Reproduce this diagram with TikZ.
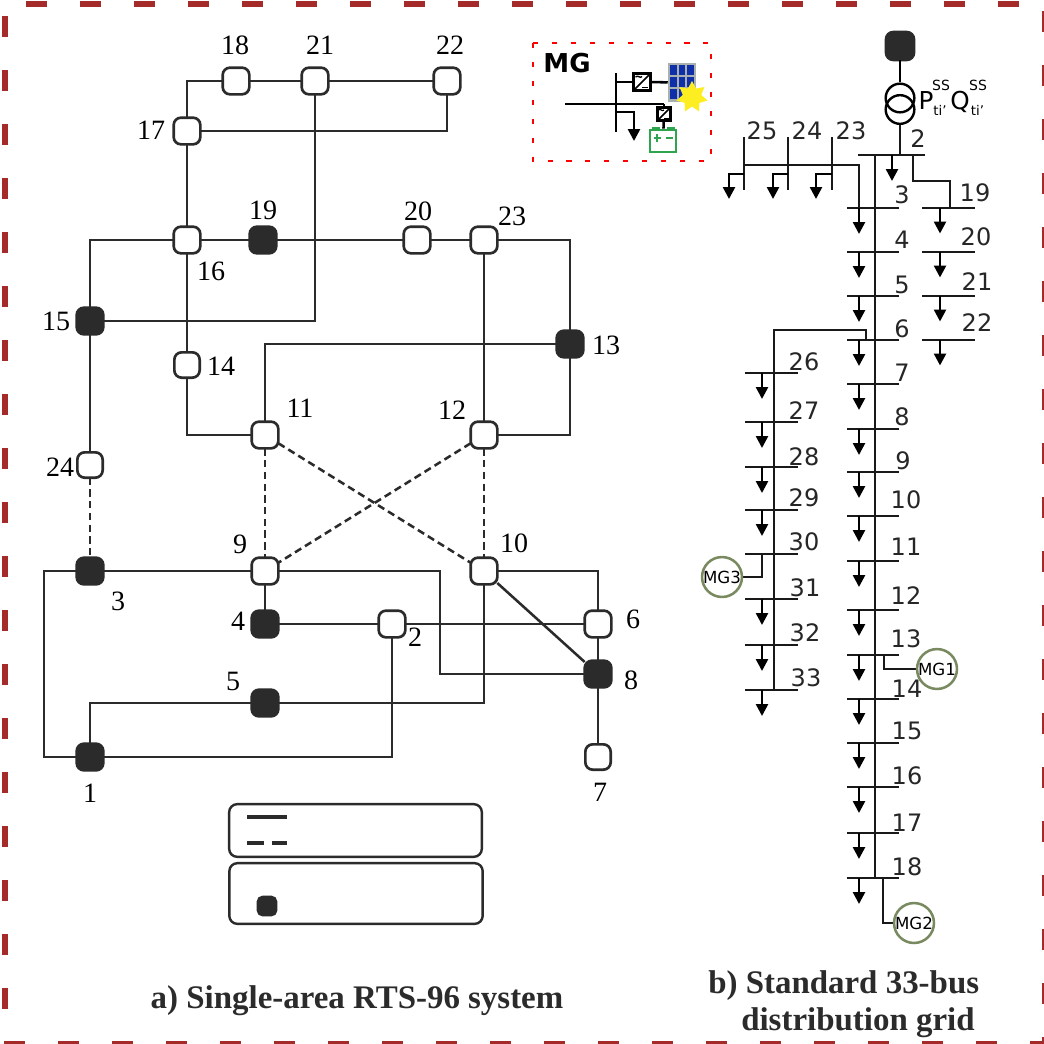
\documentclass[tikz,border=0pt]{standalone}
\usepackage{fontspec}
\setmainfont{Liberation Serif}
\newfontfamily\dejavu{DejaVu Sans}
\usetikzlibrary{arrows.meta,shapes.geometric}
\definecolor{borderred}{HTML}{A52A2A}
\definecolor{inkdark}{HTML}{2B2B2B}
\definecolor{mgolive}{HTML}{7A8A60}
\definecolor{battgreen}{HTML}{2EA44F}
\definecolor{panelblue}{HTML}{0F2FA8}
\definecolor{panelgrey}{HTML}{A8B0B0}
\definecolor{sunyellow}{HTML}{FCEE21}
\tikzset{
  x=0.75pt,y=-0.75pt,
  wbus/.style={draw=inkdark,line width=2pt,fill=white,rounded corners=5.5pt,minimum size=20pt,inner sep=0pt,outer sep=0pt},
  dbus/.style={wbus,fill=inkdark},
  sbus/.style={wbus,minimum size=19pt},
  tie/.style={draw=inkdark,line width=1.9pt},
  tiedash/.style={tie,dash pattern=on 5.5pt off 3.3pt},
  rlabel/.style={inner sep=0pt,font=\fontsize{21}{24}\selectfont,text=black},
  dlabel/.style={inner sep=0pt,font=\dejavu\fontsize{18}{20}\selectfont,text=black!85},
  feeder/.style={draw=black!90,line width=1.9pt},
  load/.style={draw=black,line width=1.9pt,-{Triangle[length=9pt,width=9pt]}},
  mgc/.style={circle,draw=mgolive,line width=1.9pt,fill=white,minimum size=28pt,inner sep=0pt,font=\dejavu\fontsize{12.5}{13}\selectfont},
  conv/.style={draw=black,line width=2pt,fill=white,inner sep=0pt,outer sep=0pt},
  title/.style={inner sep=0pt,font=\bfseries\fontsize{24.7}{28}\selectfont,text=inkdark},
  frameline/.style={draw=borderred,line width=4.2pt,dash pattern=on 16pt off 24.5pt},
}
\begin{document}
\begin{tikzpicture}
\useasboundingbox (0,0) rectangle (1044,1043);
\fill[white] (0,0) rectangle (1044,1043);
% outer border
\coordinate (fa) at (26,4); \coordinate (fb) at (1044,4);
\coordinate (fc) at (5,16); \coordinate (fd) at (5,1040);
\coordinate (fe) at (1044.5,11); \coordinate (ff) at (1044.5,1043);
\coordinate (fg) at (4,1043.5); \coordinate (fh) at (1044,1043.5);
\draw[frameline] (fa) -- (fb);
\draw[frameline] (fc) -- (fd);
\draw[frameline] (fe) -- (ff);
\draw[frameline] (fg) -- (fh);

% ---------- left system: buses
\foreach \n/\x/\y/\s in {18/236/81/wbus,21/315/81/wbus,22/447/81/wbus,17/187/131/wbus,
  16/187/240/wbus,19/263/240/dbus,20/417/240/wbus,23/484/240/wbus,15/90/321/dbus,
  13/570/344/dbus,14/187/365/sbus,11/265/435/wbus,12/484/435/wbus,24/90/465/sbus,
  3/90/571/dbus,9/265/571/wbus,10/484/571/wbus,4/265/624/dbus,2/392/624/wbus,
  6/598/624/wbus,8/598/674/dbus,5/265/703/dbus,1/90/757/dbus,7/598/757/sbus}
  {\node[\s] (n\n) at (\x,\y) {};}

\coordinate (ca) at (44,571); \coordinate (cb) at (44,757);
\coordinate (cc) at (440,571); \coordinate (cd) at (440,674);

\draw[tie] (n17) |- (n18);
\draw[tie] (n18) -- (n21);
\draw[tie] (n21) -- (n22);
\draw[tie] (n17) -| (n22);
\draw[tie] (n17) -- (n16);
\draw[tie] (n16) -- (n14);
\draw[tie] (n14) |- (n11);
\draw[tie] (n21) |- (n15);
\draw[tie] (n15) |- (n16);
\draw[tie] (n16) -- (n19);
\draw[tie] (n19) -- (n20);
\draw[tie] (n20) -- (n23);
\draw[tie] (n23) -| (n13);
\draw[tie] (n13) |- (n12);
\draw[tie] (n13) -| (n11);
\draw[tie] (n23) -- (n12);
\draw[tie] (n15) -- (n24);
\draw[tiedash] (n24) -- (n3);
\draw[tiedash] (n11) -- (n9);
\draw[tiedash] (n12) -- (n9);
\draw[tiedash] (n11) -- (n10);
\draw[tiedash] (n12) -- (n10);
\draw[tie] (n3) -- (n9);
\draw[tie] (n9) -- (cc) -- (cd) -- (n8);
\draw[tie] (n3) -- (ca) -- (cb) -- (n1);
\draw[tie] (n1) -| (n2);
\draw[tie] (n1) |- (n5);
\draw[tie] (n5) -| (n10);
\draw[tie] (n10) -| (n6);
\draw[tie] (n10) -- (n8);
\draw[tie] (n9) -- (n4);
\draw[tie] (n4) -- (n2);
\draw[tie] (n2) -- (n6);
\draw[tie] (n6) -- (n8);
\draw[tie] (n8) -- (n7);

\foreach \n/\x/\y in {18/235/45,21/320/45,22/450/45,17/151/130,19/263/210,20/418/211,
  23/512/216,16/211/271,15/56/321,13/606/345,14/221/366,11/300/408,12/452/410,
  24/60/467,9/240/544,10/514/543,3/118/601,4/238/621,2/415/637,6/633/619,8/631/680,
  5/233/681,1/90/793,7/600/792}
  {\node[rlabel] (ln\n) at (\x,\y) {\n};}

% legend
\node[draw=inkdark,line width=1.8pt,rounded corners=6pt,minimum width=189.5pt,minimum height=39.5pt,inner sep=0pt] (lega) at (355.5,830.5) {};
\node[draw=inkdark,line width=1.8pt,rounded corners=6pt,minimum width=190pt,minimum height=45.5pt,inner sep=0pt] (legb) at (356,893.5) {};
\coordinate (la) at (247,817); \coordinate (lb) at (287,817);
\coordinate (lc) at (247,843); \coordinate (ld) at (287,843);
\draw[inkdark,line width=3pt] (la) -- (lb);
\draw[inkdark,line width=3pt,dash pattern=on 12.8pt off 5.6pt] (lc) -- (ld);
\node[dbus,minimum size=13.5pt,rounded corners=3.5pt] (legn) at (267,906) {};

% titles
\node[title,anchor=base] (ta) at (357,1008) {a) Single-area RTS-96 system};
\node[title,anchor=base west] (tb1) at (708,993) {b) Standard 33-bus};
\node[title,anchor=base west] (tb2) at (741,1030) {distribution grid};

% ---------- MG inset
\draw[red,line width=2pt,dash pattern=on 3.8pt off 10.4pt] (533,43) rectangle (711,161);
\node[inner sep=0pt,font=\dejavu\bfseries\fontsize{19.5}{20}\selectfont] (mgt) at (567,63) {MG};
\coordinate (ma) at (616,73); \coordinate (mb) at (616,132);
\coordinate (mc) at (565,104); \coordinate (md) at (616,104); \coordinate (me) at (664,104);
\coordinate (mf) at (616,112); \coordinate (mg) at (634,112); \coordinate (mh) at (634,141);
\coordinate (mi) at (616,82);
\draw[black,line width=1.9pt] (ma) -- (mb);
\draw[black,line width=1.9pt] (mc) -- (md) -- (me);
\draw[load] (mf) -- (mg) -- (mh);
% solar panel
\node[fill=panelgrey,minimum width=21pt,minimum height=29pt,inner sep=0pt] (panel) at (682,82.5) {};
\foreach \cx in {673.5,682,690.5}{\foreach \cy in {70,82,94}
  {\fill[panelblue] (\cx-3.4,\cy-4.8) rectangle (\cx+3.4,\cy+4.8);}}
\node[star,star points=7,star point ratio=1.7,fill=sunyellow,minimum size=24pt,inner sep=0pt] (sun) at (692,97) {};
% converters
\node[conv,minimum size=13pt] (conva) at (642,82) {};
\draw[black,line width=1.2pt] (conva.south west) -- (conva.north east);
\draw[black,line width=1pt] (635.5,77) .. controls (638,74.5) and (640,79) .. (642,76.5);
\draw[black,line width=1pt] (642,87.5) -- (648,87.5);
\node[conv,minimum size=10pt] (convb) at (664,114) {};
\draw[black,line width=1.2pt] (convb.south west) -- (convb.north east);
\draw[black,line width=0.9pt] (658.5,110) .. controls (660.5,108) and (662,112) .. (664,110);
\draw[black,line width=0.9pt] (664,118.5) -- (669,118.5);
\draw[black,line width=1.9pt] (mi) -- (conva);
\draw[black,line width=1.9pt] (conva) -- (panel);
\draw[black,line width=1.9pt] (me) -- (convb);
% battery
\node[draw=battgreen,line width=2pt,fill=white,minimum width=19.5pt,minimum height=16.5pt,inner sep=0pt] (batt) at (663,141) {};
\fill[battgreen] (652,126.5) rectangle (660,130);
\fill[battgreen] (667,126.5) rectangle (675,130);
\draw[battgreen,line width=1.9pt] (653.5,138) -- (661,138) (657.2,134.2) -- (657.2,141.8);
\draw[battgreen,line width=1.9pt] (666,138) -- (673,138);
\draw[black,line width=1.9pt] (convb) -- (batt);

% ---------- right feeder
\node[dbus,minimum size=21pt] (ss) at (900,46) {};
\node[circle,draw=black,line width=1.8pt,minimum size=21.5pt,inner sep=0pt] (tra) at (900,98) {};
\node[circle,draw=black,line width=1.8pt,minimum size=21.5pt,inner sep=0pt] (trb) at (900,109.5) {};
\draw[black,line width=1.5pt] (ss) -- (tra);
\coordinate (b2l) at (858,155); \coordinate (b2r) at (925,155);
\coordinate (b2t) at (900,155);
\coordinate (b2m) at (875,155);
\coordinate (l2t) at (892,155); \coordinate (l2b) at (892,181);
\draw[feeder] (b2l) -- (b2r);
\draw[feeder] (trb) -- (b2t);
\draw[load] (l2t) -- (l2b);
\node[dlabel] (lb2) at (918,139) {2};
\node[inner sep=0pt,font=\dejavu\fontsize{18.5}{20}\selectfont] (tp) at (926,101) {P};
\node[inner sep=0pt,font=\dejavu\fontsize{18.5}{20}\selectfont] (tq) at (960,102) {Q};
\node[inner sep=0pt,font=\dejavu\fontsize{10.5}{11}\selectfont] (tps) at (941,85.5) {SS};
\node[inner sep=0pt,font=\dejavu\fontsize{10.5}{11}\selectfont] (tqs) at (978,85.5) {SS};
\node[inner sep=0pt,font=\dejavu\fontsize{10}{11}\selectfont] (tpt) at (940,110) {ti’};
\node[inner sep=0pt,font=\dejavu\fontsize{10}{11}\selectfont] (tqt) at (977.5,110) {ti’};

% main feeder buses
\foreach \n/\y/\lx/\ly in {3/208/902/195,4/252/902/240,5/296/902/285,6/340/902/329,7/384/902/373,
  8/429/902/417,9/472/903/461,10/516/906/500,11/561/906/547,12/610/906/596,13/655/906/639,
  14/699/907/689,15/743/907/731,16/787/907/776,17/833/907/823,18/878/907/867}{
  \coordinate (b\n l) at (847,\y); \coordinate (b\n r) at (899,\y);
  \coordinate (l\n t) at (859,\y); \coordinate (l\n b) at (859,\y+26);
  \draw[feeder] (b\n l) -- (b\n r);
  \draw[load] (l\n t) -- (l\n b);
  \node[dlabel] (lb\n) at (\lx,\ly) {\n};
}
\coordinate (b18m) at (875,878);
\draw[feeder] (b2m) -- (b18m);

% lateral 19-22
\coordinate (ra) at (913,155); \coordinate (rb) at (913,181);
\coordinate (rc) at (950,181); \coordinate (rd) at (950,208);
\draw[feeder] (ra) -- (rb) -- (rc) -- (rd);
\foreach \n/\y/\lx/\ly in {19/208/975/193,20/252/976/237,21/296/977/282,22/340/977/323}{
  \coordinate (b\n l) at (922,\y); \coordinate (b\n r) at (975,\y);
  \coordinate (l\n t) at (940,\y); \coordinate (l\n b) at (940,\y+25.5);
  \draw[feeder] (b\n l) -- (b\n r);
  \draw[load] (l\n t) -- (l\n b);
  \node[dlabel] (lb\n) at (\lx,\ly) {\n};
}

% lateral 23-25
\coordinate (ua) at (859,208); \coordinate (ub) at (859,165); \coordinate (uc) at (744,165);
\draw[feeder] (ua) -- (ub) -- (uc);
\foreach \n/\x/\ax/\lx in {25/744/729/762,24/788/773/807,23/832/816/851}{
  \coordinate (t\n) at (\x,137); \coordinate (e\n) at (\x,190);
  \coordinate (f\n) at (\x,174); \coordinate (g\n) at (\ax,174); \coordinate (h\n) at (\ax,199);
  \draw[feeder] (t\n) -- (e\n);
  \draw[load] (f\n) -- (g\n) -- (h\n);
  \node[dlabel] (lb\n) at (\lx,131) {\n};
}

% lateral 26-33
\coordinate (va) at (866,340); \coordinate (vb) at (866,330);
\coordinate (vc) at (774,330); \coordinate (vd) at (774,690);
\draw[feeder] (va) -- (vb) -- (vc) -- (vd);
\foreach \n/\y/\lx/\ly in {26/373/804/362,27/422/804/411,28/467/804/457,29/510/804/498,
  30/554/804/542,31/599/805/588,32/645/805/633,33/690/806/678}{
  \coordinate (b\n l) at (745,\y); \coordinate (b\n r) at (798,\y);
  \draw[feeder] (b\n l) -- (b\n r);
  \node[dlabel] (lb\n) at (\lx,\ly) {\n};
}
\foreach \n/\y in {26/373,27/422,28/467,29/510,31/599,32/645,33/690}{
  \coordinate (l\n t) at (762,\y); \coordinate (l\n b) at (762,\y+26);
  \draw[load] (l\n t) -- (l\n b);
}

% microgrids
\coordinate (wa) at (762,554); \coordinate (wb) at (762,577); \coordinate (wc) at (743,577);
\draw[feeder] (wa) -- (wb) -- (wc);
\node[mgc,fill=none] (mg3) at (722,577) {MG3};
\coordinate (xa) at (884,655); \coordinate (xb) at (884,669); \coordinate (xc) at (917,669);
\draw[feeder] (xa) -- (xb) -- (xc);
\node[mgc,fill=none] (mg1) at (937,669) {MG1};
\coordinate (ya) at (883,878); \coordinate (yb) at (883,923); \coordinate (yc) at (894,923);
\draw[feeder] (ya) -- (yb) -- (yc);
\node[mgc,fill=none] (mg2) at (914,923) {MG2};
\end{tikzpicture}
\end{document}
